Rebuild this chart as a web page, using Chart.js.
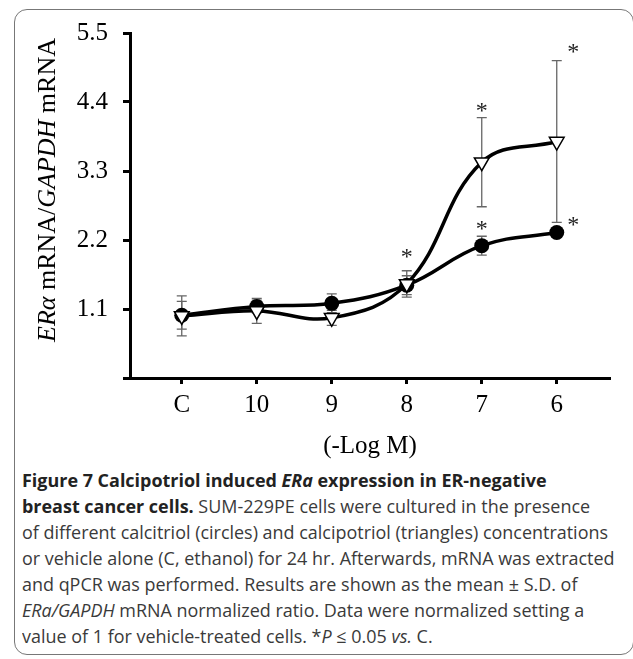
<!DOCTYPE html>
<html>
<head>
<meta charset="utf-8">
<script src="https://cdn.jsdelivr.net/npm/chart.js@4.4.1/dist/chart.umd.min.js"></script>
<style>
html, body { margin: 0; padding: 0; background: #fff; }
body { width: 633px; height: 659px; position: relative; overflow: hidden; }
#frame { position: absolute; left: 14px; top: 9px; width: 620px; height: 646px; border: 1.5px solid #777; border-radius: 13px; box-sizing: border-box; }
#wrap { position: absolute; left: 0; top: 0; width: 633px; height: 465px; }
#ytitle { position: absolute; left: 47px; top: 190px; transform: translate(-50%, -50%) rotate(-90deg); font: 26px "Liberation Serif", serif; white-space: nowrap; color: #000; }
#caption { position: absolute; left: 22px; top: 467px; font-family: "Open Sans", sans-serif; font-size: 18px; line-height: 26px; color: #3a3a3a; white-space: nowrap; transform-origin: 0 0; }
#caption b { color: #222; }
</style>
</head>
<body>
<div id="frame"></div>
<div id="wrap"><canvas id="js-era-chart" width="633" height="465"></canvas></div>
<div id="ytitle"><i>ERα</i> mRNA/<i>GAPDH</i> mRNA</div>
<div id="caption">
<div><b>Figure 7 Calcipotriol induced <i>ERa</i> expression in ER-negative</b></div>
<div><b>breast cancer cells.</b> SUM-229PE cells were cultured in the presence</div>
<div id="fit-line">of different calcitriol (circles) and calcipotriol (triangles) concentrations</div>
<div>or vehicle alone (C, ethanol) for 24 hr. Afterwards, mRNA was extracted</div>
<div>and qPCR was performed. Results are shown as the mean ± S.D. of</div>
<div><i>ERa/GAPDH</i> mRNA normalized ratio. Data were normalized setting a</div>
<div>value of 1 for vehicle-treated cells. *<i>P</i> ≤ 0.05 <i>vs.</i> C.</div>
</div>
<script>
// concentrations (-Log M), C = vehicle
const categories = ['C', '10', '9', '8', '7', '6'];
const yTicks = [0, 1.1, 2.2, 3.3, 4.4, 5.5];

// calcitriol (circles)
const calcitriol = [1.0, 1.14, 1.19, 1.48, 2.11, 2.32];
const calcitriolSD = [0.22, 0.10, 0.15, 0.15, 0.15, 0.05];

// calcipotriol (triangles)
const calcipotriol = [0.99, 1.07, 0.96, 1.5, 3.44, 3.77];
const calcipotriolSD = [0.32, 0.2, 0.12, 0.21, 0.71, 1.29];

// significance marks (*), x as category index
const starX = [3, 4, 4, 5.22, 5.22];
const starY = [1.99, 4.32, 2.43, 5.26, 2.49];

const serif = '"Liberation Serif", "Times New Roman", serif';

const errorBars = {
	id: 'errorBars',
	beforeDatasetsDraw(chart) {
		const { ctx, scales: { x, y } } = chart;
		ctx.save();
		ctx.strokeStyle = '#666';
		ctx.lineWidth = 1.3;
		[[calcitriol, calcitriolSD], [calcipotriol, calcipotriolSD]].forEach(([vals, sds]) => {
			vals.forEach((v, i) => {
				const px = x.getPixelForValue(i);
				const top = y.getPixelForValue(v + sds[i]);
				const bot = y.getPixelForValue(v - sds[i]);
				ctx.beginPath();
				ctx.moveTo(px, top); ctx.lineTo(px, bot);
				ctx.moveTo(px - 5, top); ctx.lineTo(px + 5, top);
				ctx.moveTo(px - 5, bot); ctx.lineTo(px + 5, bot);
				ctx.stroke();
			});
		});
		ctx.restore();
	},
};

const stars = {
	id: 'stars',
	afterDatasetsDraw(chart) {
		const { ctx, scales: { x, y } } = chart;
		ctx.save();
		ctx.font = '24px ' + serif;
		ctx.fillStyle = '#222';
		ctx.textAlign = 'center';
		ctx.textBaseline = 'alphabetic';
		const m = ctx.measureText('*');
		const shift = (m.actualBoundingBoxAscent - m.actualBoundingBoxDescent) / 2;
		starX.forEach((sx, i) => {
			ctx.fillText('*', x.getPixelForValue(sx), y.getPixelForValue(starY[i]) + shift);
		});
		ctx.restore();
	},
};

const toPoints = (vals) => vals.map((v, i) => ({ x: i, y: v }));

const ctx = document.getElementById('js-era-chart');
const myChart = new Chart(ctx, {
	type: 'line',
	data: {
		datasets: [
			{
				label: 'calcipotriol',
				data: toPoints(calcipotriol),
				borderColor: '#000',
				borderWidth: 3.5,
				tension: 0.4,
				pointStyle: 'triangle',
				rotation: 180,
				pointRadius: 8.5,
				pointBackgroundColor: '#fff',
				pointBorderColor: '#000',
				pointBorderWidth: 1.5,
			},
			{
				label: 'calcitriol',
				data: toPoints(calcitriol),
				borderColor: '#000',
				borderWidth: 3.5,
				tension: 0.4,
				pointStyle: 'circle',
				pointRadius: 7.5,
				pointBackgroundColor: '#000',
				pointBorderColor: '#000',
				pointBorderWidth: 0,
			},
		],
	},
	options: {
		responsive: false,
		animation: false,
		layout: { padding: { left: 0, right: 23, top: 33, bottom: 0 } },
		plugins: {
			legend: { display: false },
			tooltip: { enabled: false },
		},
		scales: {
			x: {
				type: 'linear',
				min: -0.69,
				max: 5.71,
				afterFit: (s) => { s.height = 87; },
				afterBuildTicks: (s) => { s.ticks = categories.map((c, i) => ({ value: i })); },
				grid: { drawOnChartArea: false, drawTicks: true, tickLength: 6, tickColor: '#000', tickWidth: 3 },
				border: { display: true, color: '#000', width: 3 },
				ticks: {
					color: '#000',
					font: { family: serif, size: 25 },
					padding: 6,
					callback: (v) => categories[v],
				},
				title: {
					display: true,
					text: '(-Log M)',
					color: '#000',
					font: { family: serif, size: 25 },
				},
			},
			y: {
				min: 0,
				max: 5.5,
				afterFit: (s) => { s.width = 130; },
				afterBuildTicks: (s) => { s.ticks = yTicks.map((v) => ({ value: v })); },
				grid: { drawOnChartArea: false, drawTicks: true, tickLength: 7, tickColor: '#000', tickWidth: 3 },
				border: { display: true, color: '#000', width: 3 },
				ticks: {
					color: '#000',
					font: { family: serif, size: 25 },
					padding: 15,
					callback: (v) => (v === 0 ? '' : v.toFixed(1)),
				},
			},
		},
	},
	plugins: [errorBars, stars],
});

// squeeze caption to the width of the printed column
const cap = document.getElementById('caption');
const fitLine = document.getElementById('fit-line');
const range = document.createRange();
range.selectNodeContents(fitLine);
const w = range.getBoundingClientRect().width;
cap.style.transform = 'scaleX(' + (586 / w) + ')';
</script>
</body>
</html>
